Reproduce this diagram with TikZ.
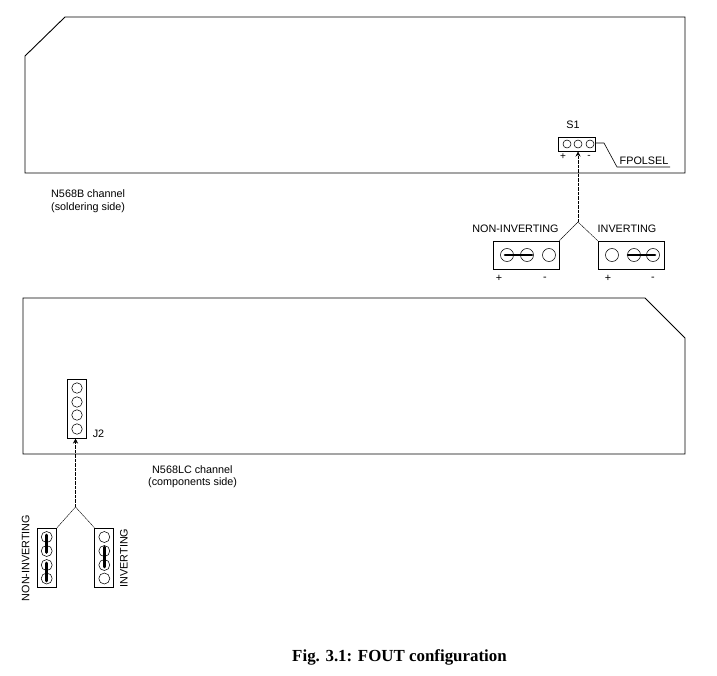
\documentclass[tikz,border=0pt]{standalone}
\usepackage{fontspec}
\setmainfont{Liberation Sans}
\newfontfamily\capfont{Liberation Serif}
\usetikzlibrary{arrows.meta}
\tikzset{
  board/.style={draw,line width=0.9pt},
  jumperbox/.style={draw,line width=0.8pt,inner sep=0pt},
  pin/.style={circle,draw,line width=0.55pt,inner sep=0pt},
  strap/.style={line width=2.6pt,line cap=round},
  lead/.style={line width=0.5pt,dash pattern=on 3.5pt off 1pt},
  probe/.style={lead,-{Stealth[length=5pt,width=5pt]}},
  forkline/.style={line width=0.45pt,dash pattern=on 1.6pt off 0.5pt},
  lbl/.style={font=\fontsize{10.8}{12}\selectfont,inner sep=0pt},
  lbll/.style={lbl,anchor=west},
  tiny/.style={inner sep=0pt,font=\fontsize{10}{11}\selectfont},
  caption/.style={font=\capfont\bfseries\fontsize{16.9}{18}\selectfont,inner sep=0pt}
}
\begin{document}
\begin{tikzpicture}[x=1pt,y=-1pt]
\useasboundingbox (0,0) rectangle (717,675);
% boards
\draw[board] (25,56) -- (65,17) -- (685,17) -- (685,173) -- (25,173) -- cycle;
\draw[board] (23,298) -- (645,298) -- (685,338) -- (685,454) -- (23,454) -- cycle;
\node[lbll] (t1) at (51,194) {N568B channel};
\node[lbll] (t2) at (51,207.5) {(soldering side)};
\node[lbll] (t3) at (152,469.5) {N568LC channel};
\node[lbll] (t4) at (148,482.5) {(components side)};
% S1
\node[jumperbox,minimum width=37pt,minimum height=14pt] (s1) at (576.5,144) {};
\foreach \n/\x in {a/567,b/578,c/590}
  \node[pin,minimum size=8pt] (s\n) at (\x,144) {};
\node[lbl] (s1lab) at (573,124.5) {S1};
\node[tiny] (splus) at (563,156.5) {+};
\node[tiny] (sminus) at (589,156.5) {-};
\coordinate (f1) at (604,143);
\coordinate (f2) at (617,167);
\coordinate (f3) at (670,167);
\draw[line width=0.6pt] (s1.east |- f1) -- (f1) -- (f2) -- (f3);
\node[lbl] (fpol) at (644,160.5) {FPOLSEL};
% top jumpers
\node[jumperbox,minimum width=66pt,minimum height=28pt] (nbox) at (526,255) {};
\node[jumperbox,minimum width=66pt,minimum height=28pt] (ibox) at (631,255) {};
\foreach \n/\x in {a/507,b/527,c/549}
  \node[pin,minimum size=13pt] (n\n) at (\x,255) {};
\foreach \n/\x in {a/612,b/634,c/653}
  \node[pin,minimum size=13pt] (i\n) at (\x,255) {};
\draw[strap] (505,255) -- (532,255);
\draw[strap] (628,255) -- (655,255);
\coordinate (fork1) at (578,222);
\draw[probe] (fork1) -- (578,151.5);
\draw[forkline] (nbox.north east) -- (fork1) -- (ibox.north west);
\node[lbl] (nlab) at (515.5,228.5) {NON-INVERTING};
\node[lbl] (ilab) at (627,228.5) {INVERTING};
\node[lbl] (p1) at (499,278) {+};
\node[lbl] (m1) at (545,279) {-};
\node[lbl] (p2) at (608,278) {+};
\node[lbl] (m2) at (653,279) {-};
% J2
\node[jumperbox,minimum width=18.6pt,minimum height=59pt] (j2) at (77,408.5) {};
\foreach \n/\y in {a/388,b/402,c/415,d/429}
  \node[pin,minimum size=10.5pt] (j\n) at (77,\y) {};
\node[lbl] (j2lab) at (98.5,434) {J2};
% bottom jumpers
\node[jumperbox,minimum width=19.4pt,minimum height=59pt] (lbox) at (47,557.5) {};
\node[jumperbox,minimum width=19pt,minimum height=59pt] (rbox) at (104.2,557.5) {};
\foreach \n/\y in {a/537,b/551,c/565,d/578.5}
  \node[pin,minimum size=11pt] (l\n) at (46.7,\y) {};
\foreach \n/\y in {a/537,b/551,c/565,d/578.5}
  \node[pin,minimum size=11pt] (r\n) at (104.3,\y) {};
\draw[strap] (46.7,535) -- (46.7,552.5);
\draw[strap] (46.7,563) -- (46.7,581);
\draw[strap] (104.3,547) -- (104.3,567);
\coordinate (fork2) at (75.5,507);
\draw[probe] (fork2) -- (75.5,438.5);
\draw[forkline] (lbox.north east) -- (fork2) -- (rbox.north west);
\node[lbl,rotate=90] (nv) at (25.7,558) {NON-INVERTING};
\node[lbl,rotate=90] (iv) at (124,558) {INVERTING};
% caption
\node[caption] (cap) at (399.5,657.5) {Fig. 3.1: FOUT configuration};
\end{tikzpicture}
\end{document}
